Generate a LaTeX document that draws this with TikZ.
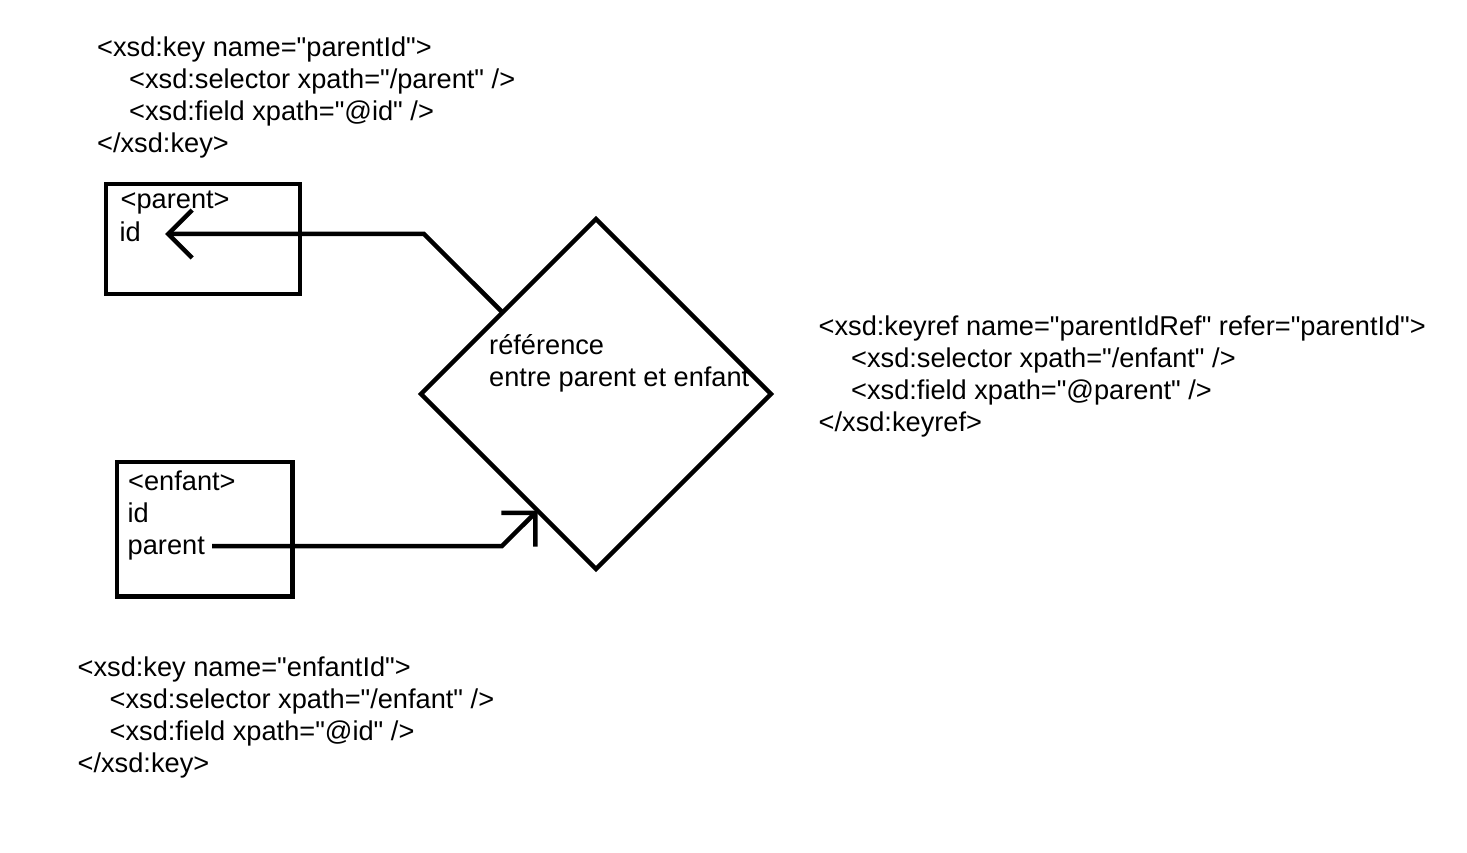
\documentclass[tikz,border=0pt]{standalone}
\usepackage{fontspec}
\setmainfont{Liberation Sans}[Ligatures=TeXOff]
\usetikzlibrary{arrows.meta,calc,shapes.geometric}
\begin{document}
\begin{tikzpicture}[x=1pt,y=-1pt,
  txt/.style={anchor=base west,inner sep=0pt,font=\fontsize{27.2}{32}\selectfont},
  box/.style={draw,rectangle,line width=4.5pt,inner sep=0pt,outer sep=0pt},
  conn/.style={line width=4.5pt,-{Straight Barb[length=24pt,width=48pt]}}]
\useasboundingbox (0,0) rectangle (1467,853);
% top key
\node[txt] (k1) at (97,57) {<xsd:key name="parentId">};
\node[txt] (k2) at (129,89) {<xsd:selector xpath="/parent" />};
\node[txt] (k3) at (129,121) {<xsd:field xpath="@id" />};
\node[txt] (k4) at (97,153) {</xsd:key>};
% keyref
\node[txt] (r1) at (818.5,335) {<xsd:keyref name="parentIdRef" refer="parentId">};
\node[txt] (r2) at (851,367) {<xsd:selector xpath="/enfant" />};
\node[txt] (r3) at (851,399) {<xsd:field xpath="@parent" />};
\node[txt] (r4) at (818.5,431) {</xsd:keyref>};
% bottom key
\node[txt] (e1) at (77.5,676) {<xsd:key name="enfantId">};
\node[txt] (e2) at (109.5,708) {<xsd:selector xpath="/enfant" />};
\node[txt] (e3) at (109.5,740) {<xsd:field xpath="@id" />};
\node[txt] (e4) at (77.5,772) {</xsd:key>};
% parent box
\node[box,minimum width=194pt,minimum height=110pt] (pbox) at (203,239) {};
\node[txt] (pt) at (120.5,209) {<parent>};
\node[txt] (pid) at (119.5,241) {id};
% enfant box
\node[box,minimum width=175.5pt,minimum height=134.5pt] (ebox) at (204.75,529.25) {};
\node[txt] (et) at (128,490) {<enfant>};
\node[txt] (eid) at (127.5,522) {id};
\node[txt] (ep) at (127.5,554) {parent};
% diamond
\node[draw,diamond,aspect=1,line width=4.5pt,inner sep=0pt,outer sep=0pt,
      minimum width=350pt,minimum height=350pt] (rel) at (596,394) {};
\node[txt] (d1) at (489,354) {référence};
\node[txt] (d2) at (489,386) {entre parent et enfant};
% connectors
\coordinate (idtip) at (165,234);
\coordinate (a1) at ($(rel.west)!0.466!(rel.north)$);
\draw[conn] (a1) -- (424,234) -- (idtip);
\coordinate (pstart) at (212,546);
\coordinate (a2) at ($(rel.west)!0.666!(rel.south)$);
\draw[conn] (pstart) -- (502,546) -- (a2);
\end{tikzpicture}
\end{document}
